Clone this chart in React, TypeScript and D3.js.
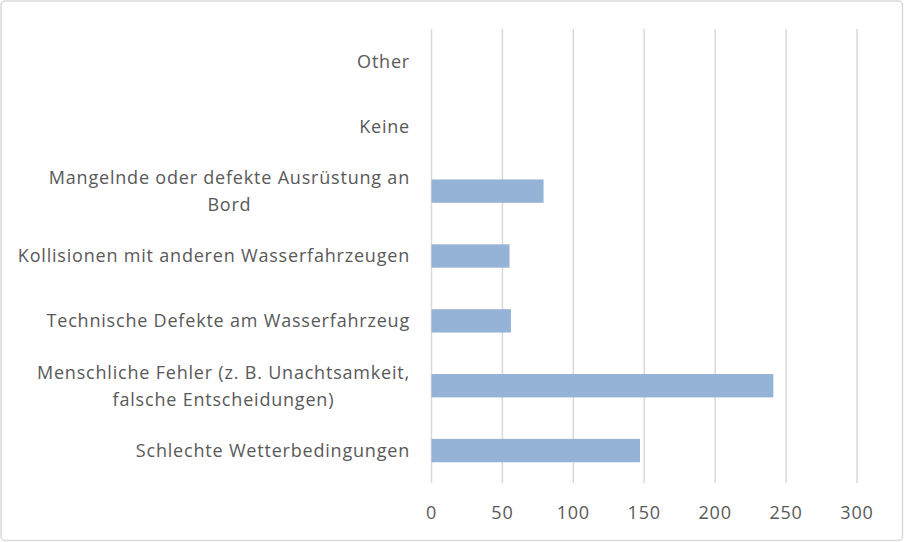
import React, { useEffect, useRef } from "react";
import * as d3 from "d3";

const categories: string[][] = [
  ["Other"],
  ["Keine"],
  ["Mangelnde oder defekte Ausrüstung an", "Bord"],
  ["Kollisionen mit anderen Wasserfahrzeugen"],
  ["Technische Defekte am Wasserfahrzeug"],
  ["Menschliche Fehler (z. B. Unachtsamkeit,", "falsche Entscheidungen)"],
  ["Schlechte Wetterbedingungen"],
];
const values: number[] = [0, 0, 79, 55, 56, 241, 147];
const xTicks: number[] = [0, 50, 100, 150, 200, 250, 300];

const W = 904;
const H = 542;
const FONT = "'Open Sans', 'Noto Sans', sans-serif";

export default function App() {
  const ref = useRef<SVGSVGElement | null>(null);

  useEffect(() => {
    const svg = d3.select(ref.current!);
    svg.selectAll("*").remove();
    svg.attr("font-family", FONT);

    const x = d3.scaleLinear().domain([0, 300]).range([431.5, 857]);
    const y = d3
      .scaleBand<number>()
      .domain(d3.range(categories.length))
      .range([29, 483])
      .paddingInner(0.64)
      .paddingOuter(0.32);
    const band = d3
      .scaleBand<number>()
      .domain(d3.range(categories.length))
      .range([29, 483]);

    svg.append("rect").attr("width", W).attr("height", H).attr("fill", "#fff");
    svg
      .append("rect")
      .attr("x", 1)
      .attr("y", 1)
      .attr("width", W - 2.5)
      .attr("height", H - 2.5)
      .attr("rx", 4)
      .attr("fill", "#fff")
      .attr("stroke", "#d9d9d9")
      .attr("stroke-width", 1.5);

    svg
      .append("g")
      .selectAll("line")
      .data(xTicks)
      .join("line")
      .attr("x1", (d) => x(d))
      .attr("x2", (d) => x(d))
      .attr("y1", 29)
      .attr("y2", 483)
      .attr("stroke", "#d9d9d9")
      .attr("stroke-width", 1.5);

    svg
      .append("g")
      .selectAll("rect")
      .data(values)
      .join("rect")
      .attr("x", x(0))
      .attr("y", (_, i) => y(i)!)
      .attr("width", (d) => Math.max(0, x(d) - x(0)))
      .attr("height", y.bandwidth())
      .attr("fill", "#95b3d7");

    const right = 410;
    const lh = 27;
    categories.forEach((lines, i) => {
      const cy = band(i)! + band.bandwidth() / 2;
      const n = lines.length;
      const t = svg
        .append("text")
        .attr("font-size", 18)
        .attr("letter-spacing", 0.8)
        .attr("fill", "#595959")
        .attr("text-anchor", "middle");
      const spans = lines.map((l, j) =>
        t
          .append("tspan")
          .attr("y", cy + (j - (n - 1) / 2) * lh)
          .attr("dy", "0.35em")
          .text(l)
      );
      const widths = spans.map((s) => (s.node() as SVGTSpanElement).getComputedTextLength());
      const maxW = Math.max(...widths);
      const cx = right - maxW / 2;
      spans.forEach((s) => s.attr("x", cx));
    });

    svg
      .append("g")
      .selectAll("text")
      .data(xTicks)
      .join("text")
      .attr("x", (d) => x(d))
      .attr("y", 513)
      .attr("dy", "0.35em")
      .attr("font-size", 18)
      .attr("letter-spacing", 0.8)
      .attr("fill", "#595959")
      .attr("text-anchor", "middle")
      .text((d) => String(d));
  }, []);

  return (
    <svg
      ref={ref}
      width={W}
      height={H}
      style={{ position: "absolute", left: 0, top: 0 }}
    />
  );
}
